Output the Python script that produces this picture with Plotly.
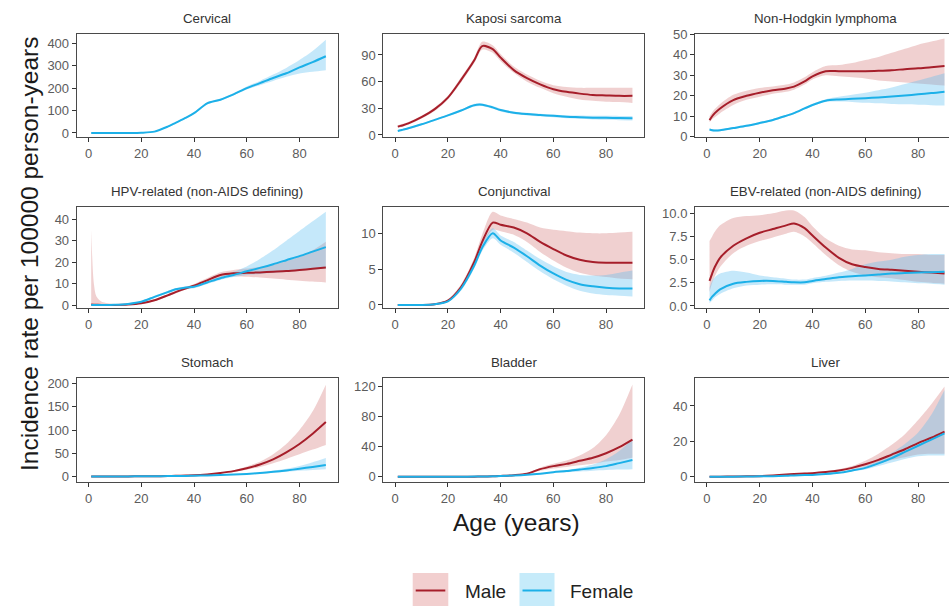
import plotly.graph_objects as go

# ---------------- data ----------------
AGES = [1, 2, 3, 5, 10, 15, 20, 25, 30, 33, 37, 40, 45, 50, 55, 60, 65, 70, 75, 80, 85, 90]

cervical_f = [0, 0, 0, 0, 0, 0, 1, 6, 28, 45, 68, 88, 132, 148, 172, 200, 222, 245, 266, 292, 316, 342]
cervical_f_lo = [0, 0, 0, 0, 0, 0, 0, 4, 25, 42, 64, 84, 128, 144, 168, 194, 213, 232, 250, 265, 273, 280]
cervical_f_hi = [1, 1, 1, 1, 1, 1, 2, 8, 31, 48, 72, 92, 137, 153, 177, 207, 232, 260, 290, 325, 365, 415]

kaposi_m = [9.4, 10.2, 11, 13, 20, 29, 42, 62, 84, 100, 96.5, 87, 73, 64, 57, 51.5, 48.5, 46.5, 45, 44.5, 44, 44]
kaposi_m_lo = [8, 8.8, 9.6, 11.5, 18.5, 27, 40, 59, 81, 96, 92.5, 83, 70, 60, 53, 47, 43, 40, 38.5, 37.5, 37, 36]
kaposi_m_hi = [11, 11.8, 12.5, 14.5, 21.5, 31, 44, 65, 87, 105, 101, 91, 77, 68, 61, 56, 54, 53, 53, 53, 53, 53]
kaposi_f = [4.5, 5.2, 6, 7.5, 12, 17, 22, 27.5, 33.5, 34, 31, 28, 25, 23.5, 22.5, 21.5, 20.5, 20, 19.5, 19.3, 19, 18.8]
kaposi_f_lo = [3.5, 4.2, 5, 6.5, 11, 16, 21, 26.5, 32, 32.5, 29.5, 26.5, 23.5, 22, 21, 20, 18.8, 18.2, 17.5, 17, 16.6, 16.3]
kaposi_f_hi = [5.5, 6.2, 7, 8.5, 13, 18, 23, 28.5, 35, 35.5, 32.5, 29.5, 26.5, 25, 24, 23, 22.2, 21.8, 21.5, 21.5, 21.4, 21.3]

nhl_m = [8.1, 10, 11.5, 13.8, 17.9, 20, 21.5, 22.7, 23.6, 24.5, 27, 29.5, 32, 32, 32, 32, 32.2, 32.5, 33, 33.4, 34, 34.5]
nhl_m_lo = [7, 8.5, 9.5, 11.5, 15.5, 18, 19.5, 21, 22, 23, 25.5, 28, 30, 29.5, 29, 28.5, 27.5, 27, 26.5, 26, 25.5, 25]
nhl_m_hi = [10, 12, 13.5, 16, 20.5, 22.5, 23.8, 24.5, 25.5, 26.5, 29, 31.5, 34.5, 35, 36, 37.5, 39, 41, 43, 45, 46.5, 48]
nhl_f = [3.5, 3.2, 3, 3.1, 4.2, 5.3, 6.7, 8.2, 10.2, 11.5, 13.8, 15.5, 17.6, 18.2, 18.5, 18.8, 19.2, 19.6, 20.1, 20.7, 21.3, 22]
nhl_f_lo = [3, 2.7, 2.5, 2.6, 3.7, 4.8, 6.2, 7.7, 9.7, 11, 13.3, 15, 17, 17.2, 17, 16.6, 16.3, 16, 15.8, 15.6, 15.4, 15.2]
nhl_f_hi = [4, 3.7, 3.5, 3.6, 4.7, 5.8, 7.2, 8.7, 10.7, 12, 14.3, 16, 18.3, 19.5, 20.5, 21.5, 22.7, 24, 25.7, 27.5, 29.2, 31]

hpv_m = [0.2, 0.15, 0.1, 0, 0, 0.2, 0.8, 2.2, 4.5, 6, 7.8, 9, 11.5, 14, 14.8, 15, 15.2, 15.5, 15.8, 16.3, 16.9, 17.5]
hpv_m_lo = [0, 0, 0, 0, 0, 0, 0.5, 1.8, 4, 5.4, 7.2, 8.3, 10.5, 12.8, 13.3, 13.2, 12.8, 12.3, 11.8, 11.3, 10.9, 10.5]
hpv_m_hi = [35, 10, 4, 1.5, 0.5, 0.5, 1.2, 2.7, 5, 6.6, 8.4, 9.8, 12.6, 15.3, 16.3, 17, 17.8, 19, 20.5, 22.5, 25.5, 29.5]
hpv_f = [0, 0, 0, 0, 0.1, 0.5, 1.5, 3.8, 6, 7.3, 8.2, 8.5, 10.5, 12.5, 14, 15.7, 17.3, 19, 20.9, 22.8, 24.9, 27]
hpv_f_lo = [0, 0, 0, 0, 0, 0.2, 1.1, 3.3, 5.5, 6.8, 7.7, 7.8, 9.8, 11.7, 13, 14, 14.5, 15, 15.5, 16, 16.5, 17]
hpv_f_hi = [0.3, 0.3, 0.3, 0.3, 0.4, 0.8, 1.9, 4.3, 6.5, 7.8, 8.7, 9.2, 11.2, 13.3, 15.5, 18, 21.5, 25.5, 30, 34.5, 39, 43.5]

conj_m = [0, 0, 0, 0, 0, 0.1, 0.6, 2.5, 6, 8.8, 11.5, 11.2, 10.8, 10, 8.8, 7.8, 6.9, 6.3, 6.0, 5.9, 5.9, 5.9]
conj_m_lo = [0, 0, 0, 0, 0, 0.05, 0.5, 2.2, 5.5, 8.2, 10.5, 10.3, 9.8, 8.8, 7.4, 6.2, 5.2, 4.5, 4.1, 3.9, 3.7, 3.6]
conj_m_hi = [0.1, 0.1, 0.1, 0.1, 0.1, 0.2, 0.8, 2.9, 6.6, 9.8, 13, 12.5, 12, 11.5, 10.8, 10.5, 10.3, 10.1, 10, 10, 10.1, 10.2]
conj_f = [0, 0, 0, 0, 0, 0.1, 0.5, 2.3, 5.5, 8, 10, 9, 8, 6.8, 5.5, 4.4, 3.5, 2.9, 2.6, 2.4, 2.3, 2.3]
conj_f_lo = [0, 0, 0, 0, 0, 0.05, 0.4, 2.0, 5.1, 7.5, 9.3, 8.4, 7.3, 6, 4.7, 3.6, 2.7, 2.0, 1.6, 1.4, 1.3, 1.2]
conj_f_hi = [0.1, 0.1, 0.1, 0.1, 0.1, 0.2, 0.7, 2.6, 5.9, 8.6, 10.7, 9.7, 8.8, 7.6, 6.4, 5.4, 4.6, 4.2, 4.1, 4.2, 4.5, 4.8]

ebv_m = [2.7, 3.5, 4.2, 5.2, 6.5, 7.3, 7.9, 8.3, 8.7, 8.9, 8.4, 7.6, 6.3, 5.2, 4.5, 4.2, 4.0, 3.9, 3.8, 3.7, 3.6, 3.5]
ebv_m_lo = [1.5, 2.5, 3.2, 4.2, 5.7, 6.5, 7.0, 7.4, 7.8, 8.0, 7.5, 6.8, 5.5, 4.4, 3.7, 3.3, 3.1, 3.0, 2.8, 2.6, 2.5, 2.4]
ebv_m_hi = [7, 7.5, 8, 8.7, 9.5, 9.7, 9.8, 10, 10.3, 10.3, 9.6, 8.6, 7.3, 6.5, 6.1, 6.0, 5.8, 5.7, 5.6, 5.6, 5.5, 5.5]
ebv_f = [0.6, 1.0, 1.3, 1.8, 2.4, 2.6, 2.7, 2.7, 2.6, 2.55, 2.55, 2.7, 2.9, 3.1, 3.2, 3.3, 3.4, 3.5, 3.55, 3.6, 3.65, 3.7]
ebv_f_lo = [0.3, 0.6, 0.9, 1.3, 1.9, 2.2, 2.3, 2.35, 2.3, 2.3, 2.3, 2.45, 2.6, 2.7, 2.75, 2.75, 2.7, 2.65, 2.55, 2.45, 2.4, 2.3]
ebv_f_hi = [2.0, 2.7, 3.1, 3.5, 3.8, 3.6, 3.3, 3.1, 2.95, 2.85, 2.85, 3.0, 3.25, 3.6, 4.0, 4.5, 4.8, 5.0, 5.3, 5.5, 5.6, 5.6]

stomach_m = [0.5, 0.5, 0.5, 0.5, 0.6, 0.7, 0.8, 1.1, 1.5, 1.9, 2.5, 3, 5, 8, 12, 18, 26, 37, 52, 70, 92, 117]
stomach_m_lo = [0.3, 0.3, 0.3, 0.3, 0.4, 0.5, 0.6, 0.9, 1.3, 1.6, 2.2, 2.6, 4.3, 7, 10.5, 15, 21, 29, 38, 48, 58, 68]
stomach_m_hi = [0.7, 0.7, 0.7, 0.7, 0.8, 0.9, 1.0, 1.3, 1.8, 2.2, 2.9, 3.5, 5.8, 9.2, 14, 22, 32, 48, 70, 100, 140, 197]
stomach_f = [0.5, 0.5, 0.5, 0.5, 0.6, 0.7, 0.8, 1.0, 1.3, 1.5, 1.8, 2, 2.7, 3.5, 4.6, 6, 8, 10.5, 13.5, 17, 21, 25]
stomach_f_lo = [0.3, 0.3, 0.3, 0.3, 0.4, 0.5, 0.6, 0.8, 1.1, 1.3, 1.6, 1.8, 2.4, 3.1, 4.0, 5, 6.7, 8.5, 10.5, 12.8, 14.5, 16]
stomach_f_hi = [0.7, 0.7, 0.7, 0.7, 0.8, 0.9, 1.0, 1.2, 1.5, 1.7, 2.0, 2.2, 3.0, 3.9, 5.2, 7, 9.5, 13, 17, 23, 31, 40]

bladder_m = [0, 0, 0, 0, 0, 0, 0, 0, 0.1, 0.2, 0.5, 1, 2, 4, 10, 14, 17, 21, 25, 31, 39, 49]
bladder_m_lo = [0, 0, 0, 0, 0, 0, 0, 0, 0, 0.1, 0.3, 0.7, 1.5, 3, 8, 11, 13, 15, 17, 20, 22, 25]
bladder_m_hi = [0.2, 0.2, 0.2, 0.2, 0.2, 0.2, 0.2, 0.2, 0.3, 0.4, 0.8, 1.4, 2.6, 5, 12, 17, 21.5, 28, 38, 55, 82, 122]
bladder_f = [0, 0, 0, 0, 0, 0, 0, 0, 0.2, 0.3, 0.5, 0.8, 1.5, 2.5, 4, 6, 7.5, 9.5, 11.5, 14, 18, 22]
bladder_f_lo = [0, 0, 0, 0, 0, 0, 0, 0, 0.1, 0.2, 0.3, 0.6, 1.2, 2, 3.3, 5, 6, 7, 8, 9, 9.5, 10]
bladder_f_hi = [0.2, 0.2, 0.2, 0.2, 0.2, 0.2, 0.2, 0.2, 0.3, 0.4, 0.7, 1, 1.8, 3, 4.8, 7, 9, 12, 16, 23, 34, 50]

liver_m = [0, 0, 0, 0, 0.1, 0.2, 0.3, 0.7, 1.2, 1.5, 1.8, 2, 2.6, 3.5, 5, 7, 9.5, 12.5, 15.5, 19, 22, 25.5]
liver_m_lo = [0, 0, 0, 0, 0, 0.1, 0.2, 0.5, 1.0, 1.2, 1.5, 1.6, 2.2, 3, 4.2, 5.7, 7.5, 9.5, 11, 12.5, 13, 13]
liver_m_hi = [0.1, 0.1, 0.1, 0.1, 0.2, 0.3, 0.5, 0.9, 1.5, 1.8, 2.2, 2.5, 3.1, 4.2, 6, 9, 13, 18, 24, 32, 41, 51]
liver_f = [0, 0, 0, 0, 0, 0.1, 0.2, 0.3, 0.5, 0.7, 0.9, 1, 1.5, 2.2, 3.5, 5, 7.5, 10.5, 14, 17.5, 21, 24.5]
liver_f_lo = [0, 0, 0, 0, 0, 0, 0.1, 0.2, 0.4, 0.5, 0.7, 0.8, 1.2, 1.8, 2.9, 4, 6, 8, 10, 11.5, 12, 12]
liver_f_hi = [0.1, 0.1, 0.1, 0.1, 0.1, 0.2, 0.3, 0.4, 0.6, 0.9, 1.1, 1.2, 1.8, 2.6, 4.1, 6, 9, 13.5, 18.5, 25, 35, 49]

PANEL_TITLES = ["Cervical", "Kaposi sarcoma", "Non-Hodgkin lymphoma",
                "HPV-related (non-AIDS defining)", "Conjunctival", "EBV-related (non-AIDS defining)",
                "Stomach", "Bladder", "Liver"]

X_TICKS = [0, 20, 40, 60, 80]
Y_TICKS = [[0, 100, 200, 300, 400], [0, 30, 60, 90], [0, 10, 20, 30, 40, 50],
           [0, 10, 20, 30, 40], [0, 5, 10], [0, 2.5, 5, 7.5, 10],
           [0, 50, 100, 150, 200], [0, 40, 80, 120], [0, 20, 40]]
Y_TICKTEXT = [None, None, None, None, None, ["0.0", "2.5", "5.0", "7.5", "10.0"], None, None, None]

SEX_LABELS = ["Male", "Female"]

PANEL_SERIES = [
    (None, (cervical_f, cervical_f_lo, cervical_f_hi)),
    ((kaposi_m, kaposi_m_lo, kaposi_m_hi), (kaposi_f, kaposi_f_lo, kaposi_f_hi)),
    ((nhl_m, nhl_m_lo, nhl_m_hi), (nhl_f, nhl_f_lo, nhl_f_hi)),
    ((hpv_m, hpv_m_lo, hpv_m_hi), (hpv_f, hpv_f_lo, hpv_f_hi)),
    ((conj_m, conj_m_lo, conj_m_hi), (conj_f, conj_f_lo, conj_f_hi)),
    ((ebv_m, ebv_m_lo, ebv_m_hi), (ebv_f, ebv_f_lo, ebv_f_hi)),
    ((stomach_m, stomach_m_lo, stomach_m_hi), (stomach_f, stomach_f_lo, stomach_f_hi)),
    ((bladder_m, bladder_m_lo, bladder_m_hi), (bladder_f, bladder_f_lo, bladder_f_hi)),
    ((liver_m, liver_m_lo, liver_m_hi), (liver_f, liver_f_lo, liver_f_hi)),
]

# ---------------- style / layout ----------------
W, H = 949, 606
FONT = "Liberation Sans, Arial, sans-serif"
LINE_COL = ["#A61E2A", "#1CB0E8"]
FILL_COL = ["rgba(200,80,80,0.27)", "rgba(90,190,240,0.35)"]
KEY_FILL = ["#F2CFCF", "#C6EBFA"]

COL_PX = [(76.7, 337.7), (383.3, 644.3), (695.0, 949.0)]
X_RANGES = [[-4.5, 94.5], [-4.5, 94.5], [-4.5, 91.7]]
ROW_PX = [(34, 137), (207, 308), (378, 482)]
Y_RANGES = [[-18, 441], [-2.3, 113.6], [-0.15, 50.2],
            [-1.4, 45.7], [-0.42, 13.67], [-0.22, 10.68],
            [-11.3, 211.3], [-7, 130.6], [-3, 55.8]]
STRIP_Y = [19, 191.5, 362.5]


def px_x(v):
    return v / W


def px_y(v):
    return 1 - v / H


fig = go.Figure()
layout = {}
annotations = []

for i in range(9):
    r, c = divmod(i, 3)
    xname = "x" if i == 0 else f"x{i + 1}"
    yname = "y" if i == 0 else f"y{i + 1}"
    xkey = "xaxis" if i == 0 else f"xaxis{i + 1}"
    ykey = "yaxis" if i == 0 else f"yaxis{i + 1}"

    male, female = PANEL_SERIES[i]
    for s, ser in enumerate((male, female)):
        if ser is None:
            continue
        mid, lo, hi = ser
        fig.add_trace(go.Scatter(x=AGES, y=lo, xaxis=xname, yaxis=yname, mode="lines",
                                 line=dict(width=0, shape="spline", smoothing=0.8),
                                 showlegend=False, hoverinfo="skip"))
        fig.add_trace(go.Scatter(x=AGES, y=hi, xaxis=xname, yaxis=yname, mode="lines",
                                 line=dict(width=0, shape="spline", smoothing=0.8),
                                 fill="tonexty", fillcolor=FILL_COL[s],
                                 showlegend=False, hoverinfo="skip"))
    for s, ser in enumerate((male, female)):
        if ser is None:
            continue
        mid, lo, hi = ser
        fig.add_trace(go.Scatter(x=AGES, y=mid, xaxis=xname, yaxis=yname, mode="lines",
                                 name=SEX_LABELS[s],
                                 line=dict(width=2, color=LINE_COL[s], shape="spline", smoothing=0.8),
                                 showlegend=False))

    x0, x1 = COL_PX[c]
    y0, y1 = ROW_PX[r]
    common = dict(showline=True, mirror=True, linecolor="#4a4a4a", linewidth=1,
                  ticks="outside", ticklen=4, tickwidth=1, tickcolor="#333333",
                  tickfont=dict(size=13, color="#5c5c5c", family=FONT),
                  showgrid=False, zeroline=False, fixedrange=True, automargin=False)
    layout[xkey] = dict(domain=[px_x(x0), px_x(x1)], range=X_RANGES[c], anchor=yname,
                        tickmode="array", tickvals=X_TICKS, **common)
    ydict = dict(domain=[px_y(y1), px_y(y0)], range=Y_RANGES[i], anchor=xname,
                 tickmode="array", tickvals=Y_TICKS[i], **common)
    if Y_TICKTEXT[i] is not None:
        ydict["ticktext"] = Y_TICKTEXT[i]
    layout[ykey] = ydict

    full_center = (x0 + x0 + 261.0) / 2
    annotations.append(dict(text=PANEL_TITLES[i], x=px_x(full_center), y=px_y(STRIP_Y[r]),
                            xref="paper", yref="paper", xanchor="center", yanchor="middle",
                            showarrow=False, font=dict(size=13.3, color="#333333", family=FONT)))

annotations.append(dict(text="Incidence rate per 100000 person-years", x=px_x(29), y=px_y(254),
                        xref="paper", yref="paper", xanchor="center", yanchor="middle",
                        textangle=-90, showarrow=False,
                        font=dict(size=24.5, color="#1a1a1a", family=FONT)))
annotations.append(dict(text="Age (years)", x=px_x(516), y=px_y(522),
                        xref="paper", yref="paper", xanchor="center", yanchor="middle",
                        showarrow=False, font=dict(size=24.5, color="#1a1a1a", family=FONT)))

shapes = []
KEY_X = [(412.7, 448.3), (519.5, 554.5)]
TEXT_X = [462.5, 568.0]
for s in range(2):
    kx0, kx1 = KEY_X[s]
    shapes.append(dict(type="rect", xref="paper", yref="paper",
                       x0=px_x(kx0), x1=px_x(kx1), y0=px_y(609), y1=px_y(573),
                       fillcolor=KEY_FILL[s], line=dict(width=0), layer="below"))
    shapes.append(dict(type="line", xref="paper", yref="paper",
                       x0=px_x(kx0 + 3), x1=px_x(kx1 - 3), y0=px_y(590.5), y1=px_y(590.5),
                       line=dict(color=LINE_COL[s], width=2)))
    annotations.append(dict(text=SEX_LABELS[s], x=px_x(TEXT_X[s]), y=px_y(591),
                            xref="paper", yref="paper", xanchor="left", yanchor="middle",
                            showarrow=False, font=dict(size=19, color="#222222", family=FONT)))

fig.update_layout(template="none", width=W, height=H,
                  margin=dict(l=0, r=0, t=0, b=0, pad=0, autoexpand=False),
                  paper_bgcolor="white", plot_bgcolor="white",
                  showlegend=False, annotations=annotations, shapes=shapes,
                  font=dict(family=FONT), **layout)

fig.write_html("out.html", config={"displayModeBar": False},
               post_script="document.body.style.margin='0';document.body.style.overflow='hidden';")
